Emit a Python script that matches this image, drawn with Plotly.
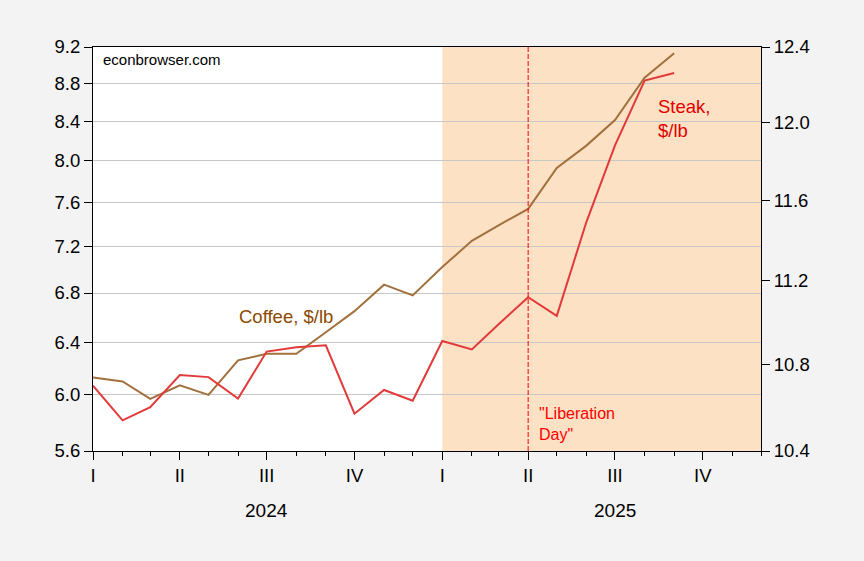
import math

import plotly.graph_objects as go

months = [
    "2024-01-01", "2024-02-01", "2024-03-01", "2024-04-01", "2024-05-01",
    "2024-06-01", "2024-07-01", "2024-08-01", "2024-09-01", "2024-10-01",
    "2024-11-01", "2024-12-01", "2025-01-01", "2025-02-01", "2025-03-01",
    "2025-04-01", "2025-05-01", "2025-06-01", "2025-07-01", "2025-08-01",
    "2025-09-01",
]
coffee = [6.13, 6.10, 5.97, 6.07, 6.00, 6.26, 6.31, 6.31, 6.48, 6.65, 6.87,
          6.78, 7.02, 7.25, 7.39, 7.54, 7.93, 8.15, 8.41, 8.86, 9.13]
steak = [10.70, 10.54, 10.60, 10.75, 10.74, 10.64, 10.86, 10.88, 10.89, 10.57,
         10.68, 10.63, 10.91, 10.87, 10.99, 11.12, 11.03, 11.49, 11.88, 12.22,
         12.26]

quarter_ticks = ["2024-01-01", "2024-04-01", "2024-07-01", "2024-10-01",
                 "2025-01-01", "2025-04-01", "2025-07-01", "2025-10-01"]
quarter_labels = ["I", "II", "III", "IV", "I", "II", "III", "IV"]
years = ["2024", "2025"]
year_centers = ["2024-07-01", "2025-07-01"]
left_ticks = [5.6, 6.0, 6.4, 6.8, 7.2, 7.6, 8.0, 8.4, 8.8, 9.2]
right_ticks = [10.4, 10.8, 11.2, 11.6, 12.0, 12.4]

shade_start, shade_end = "2025-01-01", "2025-12-01"
liberation_day = "2025-04-01"

FONT = "Liberation Sans, Arial, sans-serif"
COFFEE_LINE = "#a2703c"
STEAK_LINE = "#e23a3a"

fig = go.Figure()
fig.add_trace(go.Scatter(x=months, y=coffee, mode="lines", name="Coffee",
                         line=dict(color=COFFEE_LINE, width=2)))
fig.add_trace(go.Scatter(x=months, y=steak, mode="lines", name="Steak",
                         yaxis="y2", line=dict(color=STEAK_LINE, width=2)))

# shaded 2025 period and "Liberation Day" marker
fig.add_shape(type="rect", xref="x", yref="paper", x0=shade_start, x1=shade_end,
              y0=0, y1=1, fillcolor="#fde1c4", line_width=0, layer="below")
fig.add_shape(type="line", xref="x", yref="paper", x0=liberation_day,
              x1=liberation_day, y0=0, y1=1,
              line=dict(color="#ff0000", width=1, dash="5px,2px"))

fig.add_annotation(text="econbrowser.com", xref="paper", yref="paper",
                   x=0.012, y=0.97, xanchor="left", yanchor="middle",
                   showarrow=False, font=dict(size=15, color="black", family=FONT))
# annotations on log axes take log10 positions
fig.add_annotation(text="Coffee, $/lb", xref="x", yref="y",
                   x="2024-05-31", y=math.log10(6.61), xanchor="left",
                   showarrow=False,
                   font=dict(size=18.5, color="#8b4a00", family=FONT))
fig.add_annotation(text="Steak,<br>$/lb", xref="x", yref="y2",
                   x="2025-08-13", y=math.log10(12.02), xanchor="left",
                   align="left", showarrow=False,
                   font=dict(size=18.5, color="#e00000", family=FONT))
fig.add_annotation(text="\"Liberation<br>Day\"", xref="x", yref="paper",
                   x="2025-04-10", y=0.016, xanchor="left", align="left",
                   showarrow=False,
                   font=dict(size=16, color="#ff0000", family=FONT))
for yr, xc in zip(years, year_centers):
    fig.add_annotation(text=yr, xref="x", yref="paper", x=xc, y=0,
                       yshift=-59, yanchor="middle", showarrow=False,
                       font=dict(size=19, color="black", family=FONT))

fig.update_layout(
    width=864, height=561,
    margin=dict(l=93, r=103, t=47, b=110),
    paper_bgcolor="#f3f3f3", plot_bgcolor="white",
    showlegend=False,
    font=dict(family=FONT, size=18.5, color="black"),
    xaxis=dict(
        type="date", range=["2024-01-01", "2025-12-01"],
        tickmode="array", tickvals=quarter_ticks, ticktext=quarter_labels,
        ticks="outside", ticklen=8, tickcolor="black", tickwidth=1,
        minor=dict(dtick="M1", tick0="2024-01-01", ticks="outside",
                   ticklen=4, tickcolor="black", showgrid=False),
        showgrid=False, showline=True, linecolor="black", linewidth=1,
        mirror=True, zeroline=False, tickfont=dict(size=18.5),
    ),
    yaxis=dict(
        type="log", range=[0.748188, 0.963788],
        tickmode="array", tickvals=left_ticks,
        ticktext=[f"{v:.1f}" for v in left_ticks],
        ticks="outside", ticklen=8, tickcolor="black",
        showgrid=True, gridcolor="#c8c8c8", gridwidth=1,
        showline=True, linecolor="black", linewidth=1, zeroline=False,
    ),
    yaxis2=dict(
        type="log", overlaying="y", side="right",
        range=[1.017033, 1.093422],
        tickmode="array", tickvals=right_ticks,
        ticktext=[f"{v:.1f}" for v in right_ticks],
        ticks="outside", ticklen=8, tickcolor="black",
        showgrid=False, showline=True, linecolor="black", linewidth=1,
        zeroline=False,
    ),
)

# drop the page's default body margin so the figure sits at the window corner
fig.write_html("out.html", config={"displayModeBar": False},
               post_script="document.body.style.margin='0';")
